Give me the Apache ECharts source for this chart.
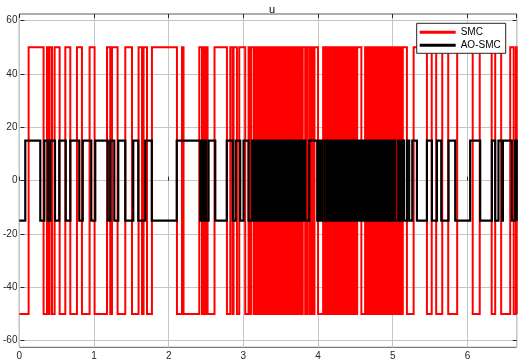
<!DOCTYPE html>
<html>
<head>
<meta charset="utf-8">
<script src="https://cdn.jsdelivr.net/npm/echarts@6/dist/echarts.min.js"></script>
<style>html,body{margin:0;padding:0;background:#fff}#c{width:519px;height:362px}</style>
</head>
<body>
<div id="c"></div>
<script>
// Intervals (seconds) where SMC is at +50 (otherwise -50)
const smcHigh = [
[0.125,0.325],[0.371,0.392],[0.406,0.438],[0.473,0.540],[0.616,0.683],[0.772,0.839],[0.941,1.008],[1.174,1.218],[1.241,1.316],[1.419,1.509],[1.597,1.643],[1.664,1.710],[1.776,2.111],[2.178,2.199],[2.410,2.446],[2.467,2.490],[2.503,2.521],[2.614,2.780],[2.825,2.855],[2.869,2.914],[2.945,3.025],[3.070,3.092],[3.102,3.137],[3.146,3.173],
[3.200,3.222],[3.247,3.268],[3.291,3.316],[3.338,3.361],[3.385,3.404],[3.428,3.452],[3.474,3.497],[3.519,3.543],[3.566,3.588],[3.611,3.633],[3.657,3.680],[3.703,3.726],[3.748,3.771],[3.795,3.828],
[3.855,3.884],[3.908,3.930],[3.952,4.000],
[4.068,4.091],[4.114,4.136],[4.160,4.182],[4.205,4.228],[4.251,4.274],[4.297,4.319],[4.342,4.365],[4.388,4.411],[4.433,4.456],[4.479,4.502],[4.524,4.580],
[4.630,4.652],[4.676,4.698],[4.721,4.744],[4.767,4.789],[4.812,4.835],[4.858,4.880],[4.903,4.926],[4.949,4.972],[4.994,5.017],[5.040,5.063],[5.086,5.110],[5.135,5.190],
[5.280,5.458],[5.522,5.582],[5.663,5.743],[5.863,6.071],[6.165,6.325],[6.372,6.452],[6.573,6.620],[6.650,6.660]
];
// Intervals (seconds) where AO-SMC is at +15 (otherwise -15)
const aoHigh = [
[0.080,0.281],[0.335,0.382],[0.415,0.478],[0.535,0.622],[0.683,0.803],[0.850,0.964],[1.017,1.185],[1.218,1.272],[1.325,1.419],[1.526,1.593],[1.687,1.774],[2.108,2.423],[2.451,2.467],[2.485,2.500],[2.534,2.624],[2.778,2.858],[2.898,2.958],[3.003,3.070],
[3.115,3.138],[3.163,3.187],[3.212,3.236],[3.262,3.285],[3.310,3.335],[3.360,3.384],[3.409,3.433],[3.459,3.482],[3.507,3.532],[3.557,3.580],[3.606,3.630],[3.655,3.679],[3.704,3.728],[3.753,3.777],[3.802,3.830],
[3.882,3.989],[4.010,4.034],[4.056,4.088],
[4.119,4.143],[4.168,4.192],[4.217,4.241],[4.266,4.290],[4.315,4.339],[4.364,4.388],[4.413,4.437],[4.462,4.486],[4.511,4.535],[4.560,4.584],[4.609,4.633],[4.658,4.682],[4.707,4.731],[4.756,4.780],[4.805,4.829],[4.854,4.878],[4.903,4.927],[4.952,4.976],[5.001,5.033],
[5.074,5.100],[5.124,5.150],[5.190,5.220],[5.262,5.324],
[5.458,5.525],[5.592,5.650],[5.747,5.837],[6.037,6.171],[6.328,6.372],[6.416,6.462],[6.475,6.595],[6.640,6.660]
];
const smcLevels = [-50, 50];
const aoLevels = [-15, 15];
const seriesNames = ['SMC', 'AO-SMC'];
const seriesColors = ['#ff0000', '#000000'];
const xTicks = [0, 1, 2, 3, 4, 5, 6];
const yTicks = [-60, -40, -20, 0, 20, 40, 60];
const tEnd = 6.66;

function buildSteps(intervals, levels) {
  const lo = levels[0], hi = levels[1];
  const pts = [[0, lo]];
  for (const [a, b] of intervals) {
    pts.push([a, lo], [a, hi], [b, hi], [b, lo]);
  }
  pts.push([tEnd, lo]);
  return pts;
}

const FONT = 'Liberation Sans, Arial, sans-serif';
const TXT = '#262626';
const GRIDC = '#c6c6c6';

const chart = echarts.init(document.getElementById('c'), null, {renderer: 'canvas'});
chart.setOption({
  animation: false,
  backgroundColor: '#fff',
  title: {
    text: 'u', left: 264, top: -1,
    textStyle: {fontSize: 11, fontWeight: 'normal', color: '#000', fontFamily: FONT}
  },
  legend: {
    data: seriesNames.map((n, i) => ({name: n, icon: 'rect', itemStyle: {color: seriesColors[i], borderWidth: 0}})),
    orient: 'vertical', left: 416.7, top: 23.3,
    padding: [3, 5, 2, 3], itemGap: 1, itemWidth: 36, itemHeight: 3,
    borderColor: '#262626', borderWidth: 1, backgroundColor: '#fff',
    textStyle: {fontSize: 10, color: '#000', lineHeight: 12, fontFamily: FONT}
  },
  grid: [
    {left: 19.3, right: 2.3, top: 14, bottom: 14.7, show: true, borderColor: '#5a5a5a', borderWidth: 1, backgroundColor: 'transparent', containLabel: false},
    {left: 19.3, right: 2.3, top: 20.67, bottom: 21.37, containLabel: false}
  ],
  xAxis: [
    {gridIndex: 0, type: 'value', min: 0, max: 6.66, interval: 1, position: 'bottom',
     axisLine: {show: false},
     axisTick: {show: true, inside: true, length: 4, lineStyle: {color: TXT}},
     axisLabel: {fontSize: 10, color: TXT, margin: 4, fontFamily: FONT, customValues: xTicks},
     splitLine: {show: true, lineStyle: {color: GRIDC, width: 1}}},
    {gridIndex: 0, type: 'value', min: 0, max: 6.66, interval: 1, position: 'top',
     axisLine: {show: false},
     axisTick: {show: true, inside: true, length: 4, lineStyle: {color: TXT}},
     axisLabel: {show: false}, splitLine: {show: false}},
    {gridIndex: 1, type: 'value', min: 0, max: 6.66, show: false}
  ],
  yAxis: [
    {gridIndex: 0, type: 'value', min: -62.5, max: 62.5, show: false},
    {gridIndex: 1, type: 'value', min: -60, max: 60, interval: 20, position: 'left',
     axisLine: {show: false},
     axisTick: {show: true, inside: true, length: 4, lineStyle: {color: TXT}},
     axisLabel: {fontSize: 10, color: TXT, margin: 3, fontFamily: FONT, customValues: yTicks},
     splitLine: {show: true, lineStyle: {color: GRIDC, width: 1}}},
    {gridIndex: 1, type: 'value', min: -60, max: 60, interval: 20, position: 'right',
     axisLine: {show: false},
     axisTick: {show: true, inside: true, length: 4, lineStyle: {color: TXT}},
     axisLabel: {show: false}, splitLine: {show: false}}
  ],
  series: [
    {name: seriesNames[0], type: 'lines', coordinateSystem: 'cartesian2d', xAxisIndex: 0, yAxisIndex: 0,
     polyline: true, silent: true, z: 2, clip: true,
     data: [{coords: buildSteps(smcHigh, smcLevels)}],
     lineStyle: {color: seriesColors[0], width: 2, opacity: 1, join: 'miter', cap: 'butt', curveness: 0}},
    {name: seriesNames[1], type: 'lines', coordinateSystem: 'cartesian2d', xAxisIndex: 0, yAxisIndex: 0,
     polyline: true, silent: true, z: 3, clip: true,
     data: [{coords: buildSteps(aoHigh, aoLevels)}],
     lineStyle: {color: seriesColors[1], width: 2.2, opacity: 1, join: 'miter', cap: 'butt', curveness: 0}}
  ]
});
</script>
</body>
</html>
